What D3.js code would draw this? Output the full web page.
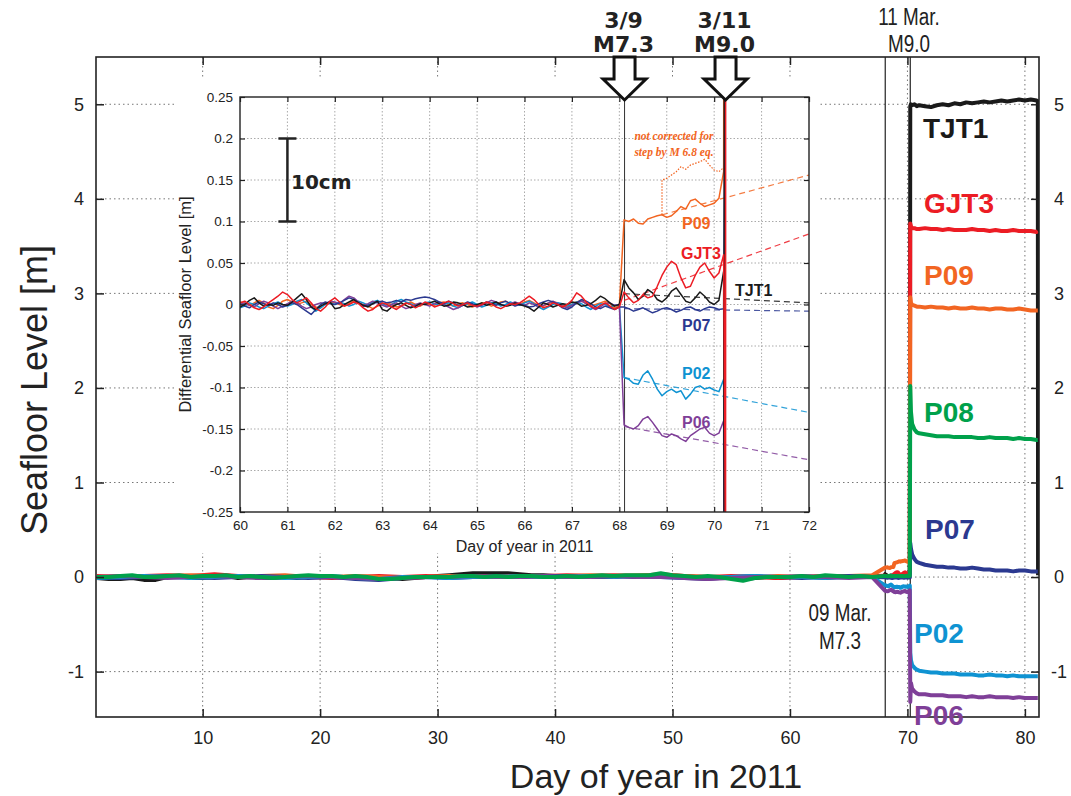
<!DOCTYPE html>
<html><head><meta charset="utf-8">
<script src="https://cdn.jsdelivr.net/npm/d3@7"></script>
<style>
body{margin:0;background:#fff}
svg{display:block}
text{font-family:"Liberation Sans",Arial,Helvetica,sans-serif}
</style>
</head><body>
<svg id="c" width="1071" height="796"></svg>
<script>
// ---------------- DATA ----------------
const stations = ["TJT1","GJT3","P09","P07","P02","P06","P08"];
const stationColors = ["#1a1a1a","#ec1c24","#f26522","#2b3990","#0f93d2","#7f3f98","#00a14b"];

// main-plot ticks
const mainXTicks = [10,20,30,40,50,60,70,80];
const mainYTicks = [-1,0,1,2,3,4,5];
const eventDays = [68.11, 70.24];   // 09 Mar M7.3, 11 Mar M9.0

// main plot: pre-event days
const mainDaily = d3.range(1, 69);        // day 1..68
const mainBiDaily = d3.range(1, 68, 2);   // day 1,3,..,67

const tjt1Pre = [-0.01,-0.02,-0.02,-0.01,-0.03,-0.03,0.00,0.01,-0.01,-0.01,
 0.00,0.01,-0.01,0.00,-0.01,-0.01,0.00,-0.01,0.00,0.01,
 0.00,0.00,0.00,-0.01,-0.02,-0.01,-0.02,-0.01,0.00,0.01,
 0.02,0.03,0.04,0.04,0.04,0.04,0.03,0.02,0.02,0.01,
 0.00,0.00,0.00,0.00,0.00,0.01,0.00,0.01,0.01,0.01,
 0.00,0.00,-0.01,-0.01,0.00,-0.02,-0.01,0.00,-0.01,0.00,
 0.00,0.00,-0.01,0.00,0.00,0.01,0.01,0.01];
const p08Pre = [0.00,0.00,0.01,0.02,0.00,0.00,0.01,0.02,0.00,0.01,
 0.01,0.02,0.00,0.01,0.00,-0.01,0.00,0.01,0.02,0.01,
 0.01,0.00,0.01,0.00,-0.02,-0.02,-0.01,0.00,0.00,0.00,
 0.00,0.01,0.01,0.00,0.01,0.00,0.01,0.01,0.00,0.00,
 0.01,0.00,0.01,0.02,0.01,0.02,0.02,0.02,0.04,0.02,
 0.01,0.00,0.01,0.00,-0.02,-0.04,-0.01,0.00,0.00,0.00,
 0.01,0.00,0.02,0.01,0.00,0.01,0.00,0.01];
const gjt3Pre = [0.01,0.00,0.01,0.02,0.01,0.03,0.01,0.00,0.01,0.00,-0.01,0.00,0.01,0.00,0.01,0.00,0.01,0.01,0.00,0.01,0.02,0.01,0.02,0.01,0.03,0.01,0.00,0.01,0.00,-0.01,0.00,0.01,0.00,0.01];
const p09Pre = [0.00,0.01,0.00,0.01,0.02,0.01,0.00,0.01,0.02,0.00,0.00,0.01,0.00,-0.01,0.00,0.01,0.00,0.01,0.01,0.00,0.01,0.02,0.01,0.02,0.02,0.01,0.00,-0.01,0.00,0.01,0.00,0.01,0.01,0.02];
const p07Pre = [0.00,-0.01,0.00,0.01,0.00,-0.01,0.00,0.01,0.00,-0.01,0.00,-0.02,-0.03,-0.01,0.00,-0.01,0.00,0.01,0.00,0.01,0.01,0.00,0.01,0.00,0.01,-0.01,-0.02,0.00,0.01,0.00,-0.01,0.00,0.01,0.00];
const p02Pre = [-0.01,0.00,0.01,0.00,-0.01,0.00,0.01,0.00,-0.01,0.00,0.01,-0.01,-0.02,0.00,0.00,-0.01,0.00,0.00,0.01,0.00,0.00,0.01,0.00,0.01,0.00,-0.01,-0.01,0.00,0.01,0.00,0.00,-0.01,0.00,0.00];
const p06Pre = [0.00,0.01,0.00,-0.01,0.00,0.01,0.00,-0.01,0.00,0.01,0.00,-0.01,-0.02,-0.01,0.00,0.00,0.01,0.00,0.00,0.01,0.00,0.00,0.01,0.00,0.00,-0.01,-0.02,-0.01,0.00,0.00,0.01,0.00,-0.01,0.00];

// inset: day 60.0..68.0 every 0.1 day, values in mm
const insetPreDays = d3.range(81).map(i => (600 + i) / 10);
const insetTJT1Pre = [-3,0,5,8,2,-2,0,-1,2,0, -1,3,8,13,6,-3,-6,-2,1,3, -5,-4,0,3,6,2,-1,-3,1,4, -6,-8,-3,0,2,-1,-4,-2,1,0,
 2,4,1,-2,-1,3,2,0,-3,-2, 0,2,-1,1,3,0,-2,-1,2,0, -2,-4,-8,-3,2,0,-3,-1,1,0, 3,2,-2,-1,1,5,10,7,2,-2, 0];
const insetGJT3Pre = [2,4,0,-4,-6,-3,2,6,10,15, 12,6,2,5,8,2,-5,-8,-3,4, 8,3,-2,0,3,1,-4,-8,-6,-1, 2,0,-3,-6,-2,2,0,-4,-1,3,
 1,-3,-1,2,4,1,-2,0,2,-1, -2,0,3,1,-3,-5,-2,1,0,2, 6,10,6,0,-4,-2,2,0,-3,0, 5,14,10,3,-2,-5,-1,2,-2,-6, -3];
const insetP09Pre = [3,1,-1,2,5,2,-3,-5,-1,4, 6,3,0,2,4,0,-3,-4,1,3, 2,0,-2,1,4,2,0,-2,-5,-2, 0,2,0,-3,-2,1,3,0,-2,1,
 0,-1,2,3,0,-2,1,2,0,-3, -1,2,1,-2,0,3,4,1,-1,0, 3,5,2,-1,-2,1,3,2,-1,-3, 0,3,5,1,-2,0,2,4,1,-4, -2];
const insetP07Pre = [1,-2,-4,0,3,1,-1,2,0,-3, -1,2,0,-4,-8,-12,-6,0,3,1, 0,2,5,8,6,2,-2,-1,1,3, 4,2,3,5,3,6,5,7,8,9,
 8,6,3,1,4,2,-1,0,3,1, -2,0,3,1,-1,2,4,1,-2,0, -1,-3,-2,1,3,5,3,0,-4,-6, -3,2,6,4,1,-3,-5,-2,-4,-6, -3];
const insetP02Pre = [-4,-2,2,0,-3,-5,-2,1,3,0, -2,0,4,6,2,-3,-8,-4,0,2, 0,3,1,-2,0,4,2,-1,3,5, 1,-2,0,4,6,3,1,-2,-1,2,
 3,1,-1,0,2,-2,-4,-1,1,3, 0,-3,-1,2,1,-2,0,3,1,-1, 2,4,1,-3,-6,-3,0,2,1,-2, 0,3,1,-3,-6,-2,1,0,-3,-1, 0];
const insetP06Pre = [0,2,-1,-3,1,4,2,-2,-5,-2, 1,4,2,-2,-5,-3,0,2,1,4, 3,1,6,10,8,3,-1,1,4,2, -1,-3,0,2,-2,-5,-3,0,2,0,
 -2,1,3,0,-3,-6,-4,-1,2,0, -3,-1,2,5,3,0,-2,1,3,1, -1,2,0,-3,-1,2,4,1,-2,-4, -1,2,4,1,-3,-6,-3,1,2,-1, 0];

// between the two earthquakes: day 68.1..70.2 every 0.1 day, mm
const midDays = d3.range(22).map(i => (681 + i) / 10);
const tjt1Mid = [30,20,14,6,10,18,14,6,3,8,16,20,12,4,2,8,15,10,3,0,5,40];
const gjt3Mid = [15,8,2,5,12,8,10,22,35,45,52,48,32,20,22,35,45,50,40,32,38,60];
const p09Mid  = [102,100,103,98,97,103,105,107,108,105,107,112,118,115,125,127,122,118,120,122,128,160];
const p07Mid  = [-3,-5,-8,-6,-4,-7,-10,-8,-5,-4,-6,-9,-7,-4,-3,-6,-8,-5,-3,-4,-6,-5];
const p02Mid  = [-88,-90,-95,-96,-85,-80,-90,-102,-110,-105,-102,-106,-104,-114,-108,-100,-98,-102,-100,-103,-105,-90];
const p06Mid  = [-145,-148,-150,-146,-138,-135,-142,-150,-158,-160,-156,-158,-162,-165,-158,-154,-150,-148,-155,-158,-155,-140];
const p08Mid  = [12,10,8,11,13,9,10,12,8,11,10,13,9,10,12,11,8,10,13,11,9,12];
// P09 not corrected for M6.8 step: day 68.9..70.2, mm
const p09UncorrDays = d3.range(14).map(i => (689 + i) / 10);
const p09Uncorr = [150,152,156,160,166,163,168,170,172,175,168,162,160,165];

// after the M9.0 (m)
const postDays = [70.24,70.3,70.4,70.6,70.8,71,71.5,72,72.5,73,73.5,74,74.5,75,75.5,76,76.5,77,77.5,78,78.5,79,79.5,80,80.5,81,81.1];
const tjt1Post = [4.98,5.00,4.99,5.00,4.98,4.99,4.98,4.97,4.99,5.00,4.99,5.01,5.00,5.02,5.01,5.02,5.03,5.02,5.03,5.04,5.03,5.04,5.05,5.04,5.05,5.04,5.03];
const gjt3Post = [3.74,3.71,3.69,3.69,3.68,3.68,3.69,3.68,3.68,3.67,3.68,3.67,3.67,3.67,3.68,3.67,3.67,3.66,3.67,3.66,3.66,3.67,3.66,3.66,3.66,3.65,3.66];
const p09Post  = [2.96,2.90,2.88,2.87,2.86,2.86,2.85,2.86,2.85,2.85,2.84,2.85,2.84,2.84,2.85,2.84,2.84,2.83,2.84,2.84,2.83,2.83,2.84,2.83,2.82,2.82,2.82];
const p07Post  = [0.36,0.30,0.24,0.19,0.16,0.15,0.13,0.12,0.11,0.11,0.10,0.10,0.09,0.09,0.10,0.09,0.08,0.08,0.07,0.07,0.07,0.06,0.07,0.07,0.06,0.06,0.06];
const p02Post  = [-0.80,-0.88,-0.93,-0.96,-0.98,-0.99,-1.00,-1.01,-1.01,-1.02,-1.02,-1.02,-1.03,-1.03,-1.03,-1.04,-1.04,-1.03,-1.04,-1.04,-1.05,-1.04,-1.05,-1.05,-1.05,-1.05,-1.05];
const p06Post  = [-1.32,-1.12,-1.18,-1.21,-1.23,-1.24,-1.24,-1.25,-1.25,-1.25,-1.26,-1.26,-1.26,-1.27,-1.26,-1.27,-1.27,-1.26,-1.27,-1.27,-1.27,-1.28,-1.27,-1.28,-1.28,-1.28,-1.28];
const p08Post  = [2.02,1.75,1.62,1.56,1.53,1.52,1.51,1.50,1.49,1.49,1.49,1.48,1.48,1.48,1.48,1.47,1.47,1.48,1.47,1.47,1.47,1.46,1.47,1.46,1.46,1.45,1.45];
const tjt1TailDay = 81.12, tjt1TailValue = 0.02;

// inset trend lines (dashed): start day/value, end day/value
const trendStations = ["TJT1","GJT3","P09","P07","P02","P06"];
const trendDay0 = [68.1,68.1,68.9,68.1,68.1,68.1];
const trendVal0 = [0.013,0.005,0.108,-0.005,-0.088,-0.147];
const trendDay1 = [72,72,72,72,72,72];
const trendVal1 = [0.002,0.085,0.156,-0.008,-0.130,-0.187];

// inset ticks
const insetXTicks = [60,61,62,63,64,65,66,67,68,69,70,71,72];
const insetYTicks = [-0.25,-0.2,-0.15,-0.1,-0.05,0,0.05,0.1,0.15,0.2,0.25];
const scaleBarVals = [0.1, 0.2];

// ---------------- BUILD SERIES ----------------
const zip = (xs, ys, k = 1) => xs.map((d, i) => [d, ys[i] * k]);
const col = name => stationColors[stations.indexOf(name)];

const p09MainMid = zip(midDays, p09Mid, 1e-3).filter(d => d[0] < 68.85).concat(zip(p09UncorrDays, p09Uncorr, 1e-3));
const mainSeries = {
  TJT1: zip(mainDaily, tjt1Pre).concat(zip(midDays, tjt1Mid, 1e-3), zip(postDays, tjt1Post), [[tjt1TailDay, tjt1TailValue]]),
  GJT3: zip(mainBiDaily, gjt3Pre).concat(zip(midDays, gjt3Mid, 1e-3), zip(postDays, gjt3Post)),
  P09:  zip(mainBiDaily, p09Pre).concat(p09MainMid, zip(postDays, p09Post)),
  P07:  zip(mainBiDaily, p07Pre).concat(zip(midDays, p07Mid, 1e-3), zip(postDays, p07Post)),
  P02:  zip(mainBiDaily, p02Pre).concat(zip(midDays, p02Mid, 1e-3), zip(postDays, p02Post)),
  P06:  zip(mainBiDaily, p06Pre).concat(zip(midDays, p06Mid, 1e-3), zip(postDays, p06Post)),
  P08:  zip(mainDaily, p08Pre).concat(zip(midDays, p08Mid, 1e-3), zip(postDays, p08Post))
};
const insetSeries = {
  TJT1: zip(insetPreDays, insetTJT1Pre, 1e-3).concat(zip(midDays, tjt1Mid, 1e-3), [[70.21, -0.3], [70.23, tjt1Post[0]]]),
  GJT3: zip(insetPreDays, insetGJT3Pre, 1e-3).concat(zip(midDays, gjt3Mid, 1e-3), [[70.24, -0.3], [70.25, gjt3Post[0]]]),
  P09:  zip(insetPreDays, insetP09Pre, 1e-3).concat(zip(midDays, p09Mid, 1e-3), [[postDays[0], p09Post[0]]]),
  P07:  zip(insetPreDays, insetP07Pre, 1e-3).concat(zip(midDays, p07Mid, 1e-3), [[postDays[0], p07Post[0]]]),
  P02:  zip(insetPreDays, insetP02Pre, 1e-3).concat(zip(midDays, p02Mid, 1e-3), [[postDays[0], p02Post[0]]]),
  P06:  zip(insetPreDays, insetP06Pre, 1e-3).concat(zip(midDays, p06Mid, 1e-3), [[postDays[0], p06Post[0]]])
};
const p09UncorrSeries = [[68.9, p09Mid[8] / 1000]].concat(zip(p09UncorrDays, p09Uncorr, 1e-3));

// ---------------- DRAW ----------------
const svg = d3.select("#c");
const M = {l: 96, r: 1039, t: 57, b: 717};
const x = d3.scaleLinear().domain([0.92, 81.2]).range([M.l, M.r]);
const y = d3.scaleLinear().domain([-1.48, 5.5]).range([M.b, M.t]);
const fmt = d => String(d);

svg.append("defs").append("clipPath").attr("id", "mclip")
  .append("rect").attr("x", M.l).attr("y", M.t).attr("width", M.r - M.l).attr("height", M.b - M.t);

// main grid
const grid = svg.append("g").attr("stroke", "#777").attr("stroke-width", 1).attr("stroke-dasharray", "1.5,3");
mainXTicks.forEach(d => grid.append("line").attr("x1", x(d)).attr("x2", x(d)).attr("y1", M.t).attr("y2", M.b));
mainYTicks.forEach(d => grid.append("line").attr("x1", M.l).attr("x2", M.r).attr("y1", y(d)).attr("y2", y(d)));

// event lines
eventDays.forEach(d => svg.append("line").attr("x1", x(d)).attr("x2", x(d)).attr("y1", M.t).attr("y2", M.b)
  .attr("stroke", "#222").attr("stroke-width", 1.2));

// main series
const mline = d3.line().x(d => x(d[0])).y(d => y(d[1]));
const mg = svg.append("g").attr("clip-path", "url(#mclip)");
["TJT1","GJT3","P09","P07","P02","P06","P08"].forEach(s => {
  mg.append("path").attr("d", mline(mainSeries[s])).attr("fill", "none")
    .attr("stroke", col(s)).attr("stroke-width", 4).attr("stroke-linejoin", "round");
});

// main axes (ticks inward)
const axStyle = g => { g.select(".domain").remove(); g.selectAll("line").attr("stroke", "#222").attr("stroke-width", 1.5);
  g.selectAll("text").attr("fill", "#222").style("font-family", '"Liberation Sans", Arial, sans-serif'); };
svg.append("g").attr("transform", `translate(0,${M.b})`)
  .call(d3.axisBottom(x).tickValues(mainXTicks).tickSize(-8).tickSizeOuter(0).tickPadding(14).tickFormat(fmt))
  .call(axStyle).selectAll("text").style("font-size", "18px");
svg.append("g").attr("transform", `translate(0,${M.t})`)
  .call(d3.axisTop(x).tickValues(mainXTicks).tickSize(-8).tickSizeOuter(0).tickFormat(""))
  .call(axStyle);
svg.append("g").attr("transform", `translate(${M.l},0)`)
  .call(d3.axisLeft(y).tickValues(mainYTicks).tickSize(-8).tickSizeOuter(0).tickPadding(12).tickFormat(fmt))
  .call(axStyle).selectAll("text").style("font-size", "18px");
svg.append("g").attr("transform", `translate(${M.r},0)`)
  .call(d3.axisRight(y).tickValues(mainYTicks).tickSize(-8).tickSizeOuter(0).tickPadding(12).tickFormat(fmt))
  .call(axStyle).selectAll("text").style("font-size", "18px").attr("text-anchor", "middle").attr("x", 20);

svg.append("rect").attr("x", M.l).attr("y", M.t).attr("width", M.r - M.l).attr("height", M.b - M.t)
  .attr("fill", "none").attr("stroke", "#222").attr("stroke-width", 1.6);

// main titles
svg.append("text").attr("x", 656).attr("y", 788).attr("text-anchor", "middle")
  .style("font-size", "34px").attr("fill", "#222").text("Day of year in 2011");
svg.append("text").attr("transform", "translate(47,390) rotate(-90)").attr("text-anchor", "middle")
  .style("font-size", "36px").attr("fill", "#222").text("Seafloor Level [m]");

// event annotations (main) — condensed sans
const narrowText = (t, cx, yy) => svg.append("g").attr("transform", `translate(${cx},${yy}) scale(0.82,1)`)
  .append("text").attr("text-anchor", "middle").style("font-size", "23px").attr("fill", "#222").text(t);
narrowText("11 Mar.", 909, 25); narrowText("M9.0", 909, 52);
narrowText("09 Mar.", 840, 621); narrowText("M7.3", 840, 649);

// main station labels
const mainLabels = [["TJT1", 923, 138], ["GJT3", 924, 213], ["P09", 924, 285], ["P08", 924, 422],
                    ["P07", 925, 539], ["P02", 914, 643], ["P06", 914, 725]];
mainLabels.forEach(([s, lx, ly]) => svg.append("text").attr("x", lx).attr("y", ly)
  .style("font-size", "28px").style("font-weight", "bold").attr("fill", col(s)).text(s));

// ---------------- INSET ----------------
const I = {l: 240, r: 809, t: 97, b: 512};
const xi = d3.scaleLinear().domain([60, 72]).range([I.l, I.r]);
const yi = d3.scaleLinear().domain([-0.25, 0.25]).range([I.b, I.t]);

svg.append("rect").attr("x", 175).attr("y", 77).attr("width", 643).attr("height", 476).attr("fill", "#fff");
svg.select("defs").append("clipPath").attr("id", "iclip")
  .append("rect").attr("x", I.l).attr("y", I.t).attr("width", I.r - I.l).attr("height", I.b - I.t);

const ig = svg.append("g").attr("stroke", "#aaa").attr("stroke-width", 1).attr("stroke-dasharray", "1.5,2");
insetXTicks.slice(1, -1).forEach(d => ig.append("line").attr("x1", xi(d)).attr("x2", xi(d)).attr("y1", I.t).attr("y2", I.b));
insetYTicks.slice(1, -1).forEach(d => ig.append("line").attr("x1", I.l).attr("x2", I.r).attr("y1", yi(d)).attr("y2", yi(d)));

eventDays.forEach(d => svg.append("line").attr("x1", xi(d)).attr("x2", xi(d)).attr("y1", I.t).attr("y2", I.b)
  .attr("stroke", "#333").attr("stroke-width", 1));

const iline = d3.line().x(d => xi(d[0])).y(d => yi(d[1]));
const icg = svg.append("g").attr("clip-path", "url(#iclip)");
// trend lines
trendStations.forEach((s, i) => icg.append("path")
  .attr("d", iline([[trendDay0[i], trendVal0[i]], [trendDay1[i], trendVal1[i]]]))
  .attr("fill", "none").attr("stroke", col(s)).attr("stroke-width", 1.2).attr("stroke-dasharray", "6,4").attr("opacity", 0.85));
// uncorrected P09 dotted
icg.append("path").attr("d", iline(p09UncorrSeries)).attr("fill", "none")
  .attr("stroke", col("P09")).attr("stroke-width", 1.2).attr("stroke-dasharray", "1.5,1.5");
["P09","P02","P06","P07","TJT1","GJT3"].forEach(s => icg.append("path").attr("d", iline(insetSeries[s]))
  .attr("fill", "none").attr("stroke", col(s)).attr("stroke-width", 1.5).attr("stroke-linejoin", "round"));

// inset axes
const iaxStyle = g => { g.select(".domain").remove(); g.selectAll("line").attr("stroke", "#222").attr("stroke-width", 1.2);
  g.selectAll("text").attr("fill", "#222").style("font-size", "13.5px"); };
svg.append("g").attr("transform", `translate(0,${I.b})`)
  .call(d3.axisBottom(xi).tickValues(insetXTicks).tickSize(-5).tickSizeOuter(0).tickPadding(8).tickFormat(fmt)).call(iaxStyle);
svg.append("g").attr("transform", `translate(0,${I.t})`)
  .call(d3.axisTop(xi).tickValues(insetXTicks).tickSize(-5).tickSizeOuter(0).tickFormat("")).call(iaxStyle);
svg.append("g").attr("transform", `translate(${I.l},0)`)
  .call(d3.axisLeft(yi).tickValues(insetYTicks).tickSize(-5).tickSizeOuter(0).tickPadding(7).tickFormat(fmt)).call(iaxStyle);
svg.append("g").attr("transform", `translate(${I.r},0)`)
  .call(d3.axisRight(yi).tickValues(insetYTicks).tickSize(-5).tickSizeOuter(0).tickFormat("")).call(iaxStyle);
svg.append("rect").attr("x", I.l).attr("y", I.t).attr("width", I.r - I.l).attr("height", I.b - I.t)
  .attr("fill", "none").attr("stroke", "#222").attr("stroke-width", 1.4);

svg.append("text").attr("x", (I.l + I.r) / 2).attr("y", 552).attr("text-anchor", "middle")
  .style("font-size", "16px").attr("fill", "#222").text("Day of year in 2011");
svg.append("text").attr("transform", `translate(191,${(I.t + I.b) / 2}) rotate(-90)`).attr("text-anchor", "middle")
  .style("font-size", "16.5px").attr("fill", "#222").text("Differential Seafloor Level [m]");

// scale bar
const sbx = xi(61);
const sb = svg.append("g").attr("stroke", "#222").attr("stroke-width", 2.5);
sb.append("line").attr("x1", sbx).attr("x2", sbx).attr("y1", yi(scaleBarVals[0])).attr("y2", yi(scaleBarVals[1]));
scaleBarVals.forEach(v => sb.append("line").attr("x1", sbx - 9).attr("x2", sbx + 9).attr("y1", yi(v)).attr("y2", yi(v)));
svg.append("text").attr("x", 291).attr("y", 189).style("font-family", '"DejaVu Sans", Verdana, sans-serif')
  .style("font-weight", "bold").style("font-size", "20px").attr("fill", "#222").text("10cm");

// inset labels
const insetLabels = [["P09", 682, 229], ["GJT3", 681, 259], ["TJT1", 735, 296], ["P07", 682, 331], ["P02", 682, 379], ["P06", 682, 428]];
insetLabels.forEach(([s, lx, ly]) => svg.append("text").attr("x", lx).attr("y", ly)
  .style("font-size", "16px").style("font-weight", "bold").attr("fill", col(s)).text(s));
[["not corrected for", 140], ["step by M 6.8 eq.", 156]].forEach(([t, yy]) =>
  svg.append("text").attr("x", 674).attr("y", yy).attr("text-anchor", "middle")
    .style("font-family", '"Liberation Serif", "Times New Roman", serif').style("font-style", "italic")
    .style("font-weight", "bold").style("font-size", "11.5px").attr("fill", col("P09")).text(t));

// arrows for the two earthquakes
const arrowLabels = [["3/9", "M7.3"], ["3/11", "M9.0"]];
eventDays.forEach((d, i) => {
  const cx = xi(d);
  const p = d3.path();
  p.moveTo(cx - 10.5, M.t); p.lineTo(cx + 10.5, M.t); p.lineTo(cx + 10.5, 79); p.lineTo(cx + 21.5, 79);
  p.lineTo(cx, 100); p.lineTo(cx - 21.5, 79); p.lineTo(cx - 10.5, 79); p.closePath();
  svg.append("path").attr("d", p.toString()).attr("fill", "#fff").attr("stroke", "#111")
    .attr("stroke-width", 3).attr("stroke-linejoin", "miter");
  [[arrowLabels[i][0], 28], [arrowLabels[i][1], 52]].forEach(([t, yy]) =>
    svg.append("text").attr("x", cx - 1).attr("y", yy).attr("text-anchor", "middle")
      .style("font-family", '"DejaVu Sans", Verdana, sans-serif').style("font-weight", "bold")
      .style("font-size", "22px").attr("fill", "#222").text(t));
});
</script>
</body></html>
